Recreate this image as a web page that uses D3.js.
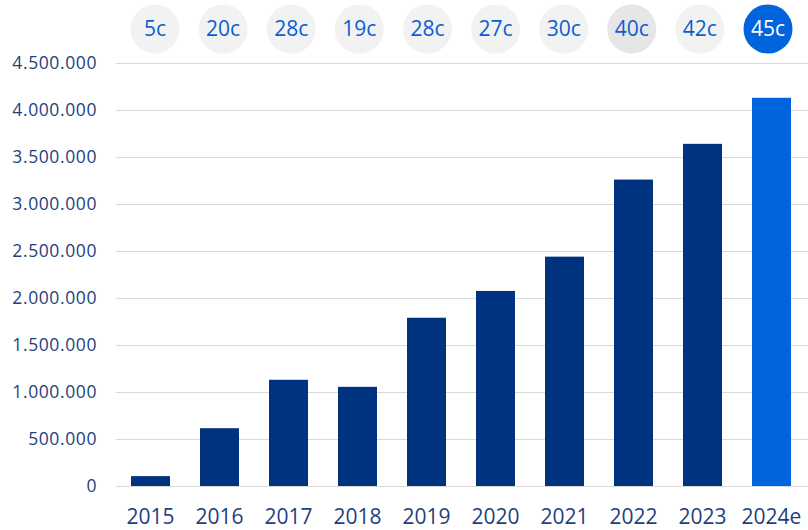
<!DOCTYPE html>
<html>
<head>
<meta charset="utf-8">
<script src="https://cdn.jsdelivr.net/npm/d3@7"></script>
<style>
  body { margin: 0; background: #fff; }
  text { font-family: 'Open Sans', 'Noto Sans', sans-serif; }
</style>
</head>
<body>
<div id="chart"></div>
<script>
const years = ['2015', '2016', '2017', '2018', '2019', '2020', '2021', '2022', '2023', '2024e']
const values = [105000, 615000, 1130000, 1055000, 1790000, 2075000, 2440000, 3260000, 3640000, 4130000]
const dividends = ['5c', '20c', '28c', '19c', '28c', '27c', '30c', '40c', '42c', '45c']
const yTicks = [0, 500000, 1000000, 1500000, 2000000, 2500000, 3000000, 3500000, 4000000, 4500000]

const width = 808
const height = 530

const svg = d3.select('#chart')
  .append('svg')
  .attr('width', width)
  .attr('height', height)

const x = d3.scaleBand()
  .domain(years)
  .range([116, 806])
  .paddingInner(0.435)
  .paddingOuter(0.2175)

const y = d3.scaleLinear()
  .domain([0, 4500000])
  .range([486, 63])

const circleX = d3.scalePoint()
  .domain(years)
  .range([155, 768])

const fmt = d => d3.format(',')(d).replace(/,/g, '.')

// gridlines
svg.append('g')
  .selectAll('line')
  .data(yTicks)
  .enter().append('line')
  .attr('x1', 116)
  .attr('x2', 808)
  .attr('y1', d => Math.round(y(d)) + 0.5)
  .attr('y2', d => Math.round(y(d)) + 0.5)
  .attr('stroke', '#d9d9d9')
  .attr('stroke-width', 1.2)

// y labels
svg.append('g')
  .selectAll('text')
  .data(yTicks)
  .enter().append('text')
  .attr('x', 97)
  .attr('y', d => y(d))
  .attr('dy', '0.35em')
  .attr('text-anchor', 'end')
  .attr('font-size', 17.5)
  .attr('letter-spacing', 0.6)
  .attr('fill', '#1f3f7e')
  .text(fmt)

// bars
svg.append('g')
  .selectAll('rect')
  .data(values)
  .enter().append('rect')
  .attr('x', (d, i) => x(years[i]))
  .attr('y', d => y(d))
  .attr('width', x.bandwidth())
  .attr('height', d => y(0) - y(d))
  .attr('fill', (d, i) => i === years.length - 1 ? '#0064dc' : '#00337f')

// x labels
svg.append('g')
  .selectAll('text')
  .data(years)
  .enter().append('text')
  .attr('x', d => x(d) + x.bandwidth() / 2)
  .attr('y', 517)
  .attr('dy', '0.35em')
  .attr('text-anchor', 'middle')
  .attr('font-size', 21)
  .attr('fill', '#1f3f7e')
  .text(d => d)

// dividend bubbles
const bubble = svg.append('g')
  .selectAll('g')
  .data(dividends)
  .enter().append('g')
  .attr('transform', (d, i) => 'translate(' + circleX(years[i]) + ',29)')

bubble.append('circle')
  .attr('r', 24.5)
  .attr('fill', (d, i) => i === 9 ? '#0064dc' : (i === 7 ? '#e6e6e6' : '#f2f2f2'))

bubble.append('text')
  .attr('text-anchor', 'middle')
  .attr('dy', '0.35em')
  .attr('font-size', 21)
  .attr('fill', (d, i) => i === 9 ? '#ffffff' : '#0a5fd0')
  .text(d => d)
</script>
</body>
</html>
